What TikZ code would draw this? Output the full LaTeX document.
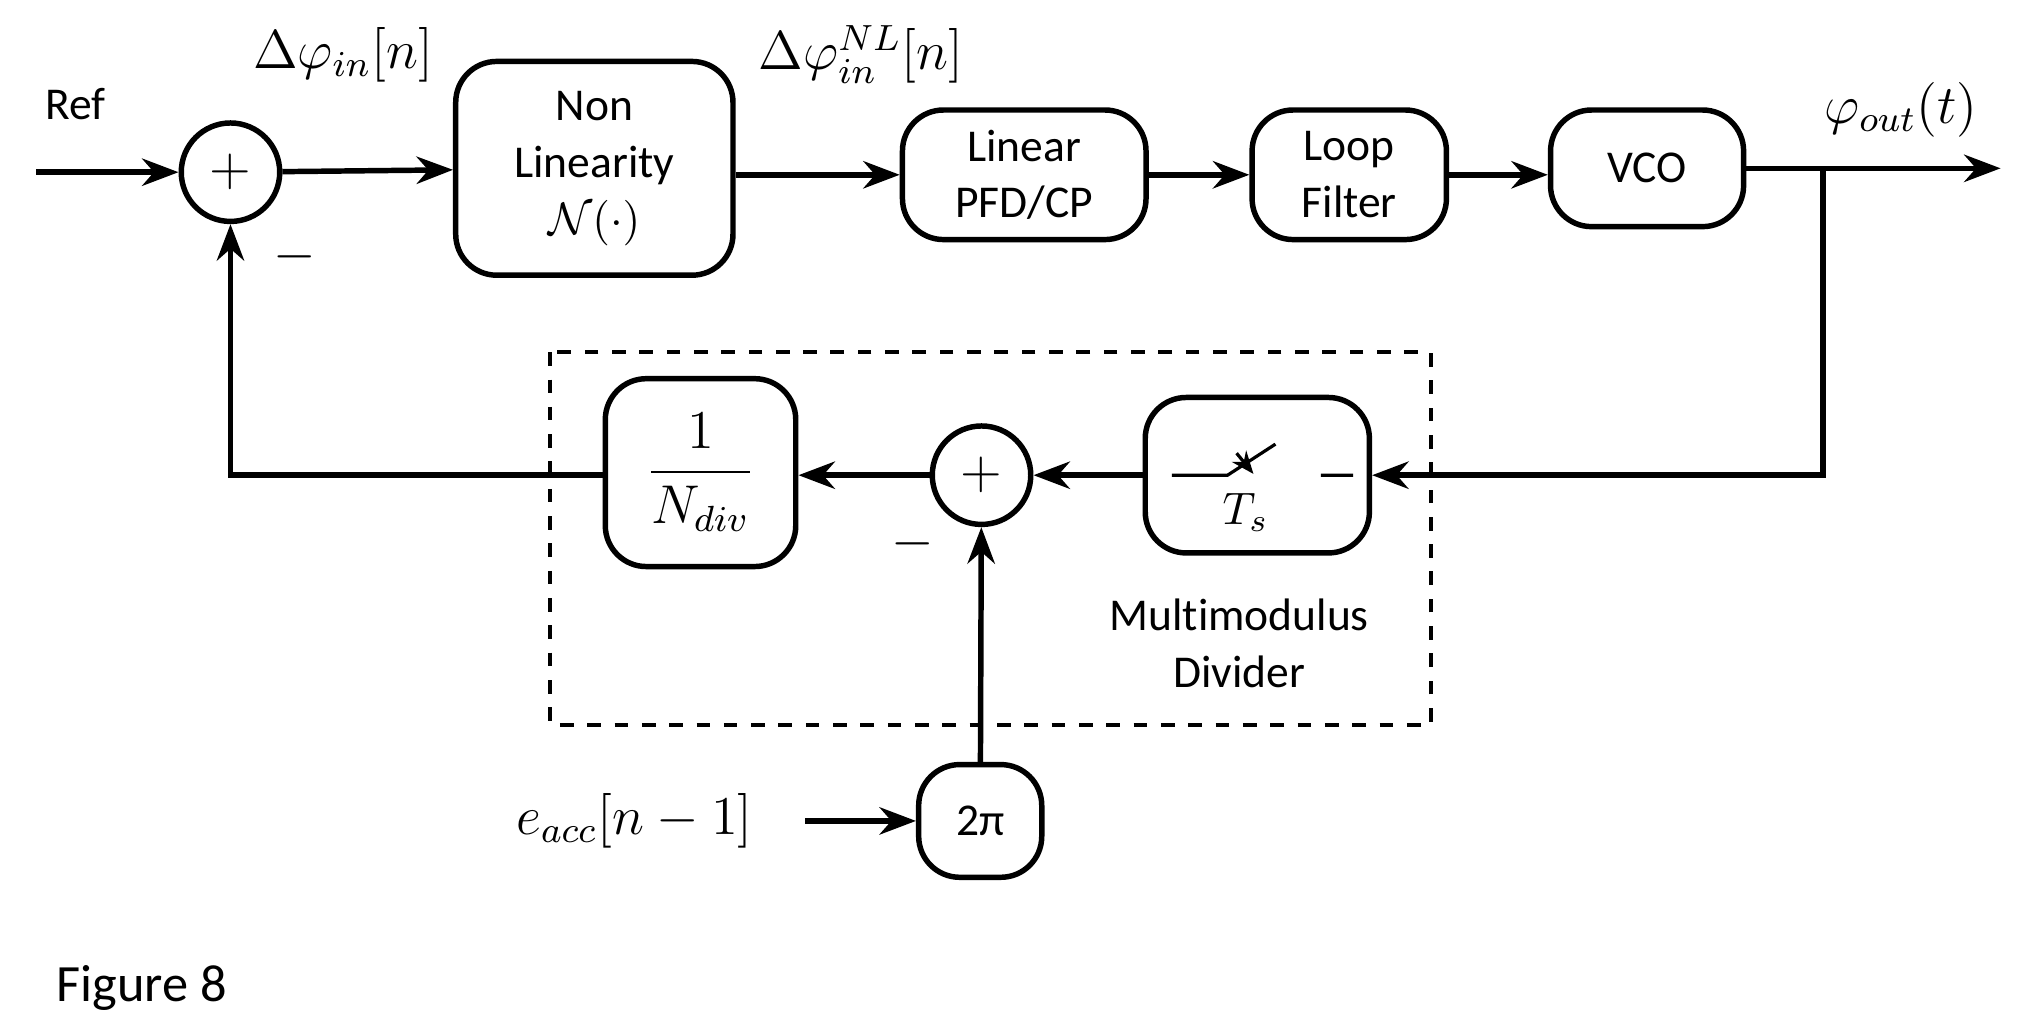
\documentclass[tikz,border=0pt]{standalone}
\usepackage{fontspec}
\setmainfont{Carlito}[Ligatures=NoCommon]
\usetikzlibrary{positioning}
\usetikzlibrary{arrows.meta}

\begin{document}
\begin{tikzpicture}[x=0.01cm, y=-0.01cm, >={Stealth[length=8pt,width=6pt]}, line width=1.2pt,
    font=\fontsize{10}{12.5}\selectfont,
    block/.style={draw, rounded corners=9pt, align=center, inner sep=0pt},
    summer/.style={draw, circle, inner sep=0pt, minimum size=0.76cm}]
\useasboundingbox (0,0) rectangle (1560,795);
% forward path
\node[summer] (s1) at (178,133) {\large$+$};
\node[block, minimum width=2.14cm, minimum height=1.65cm] (nl) at (459,130) {Non\\Linearity\\$\mathcal{N}(\cdot)$};
\node[block, minimum width=1.88cm, minimum height=1.0cm] (pfd) at (791,135) {Linear\\PFD/CP};
\node[block, minimum width=1.5cm, minimum height=1.0cm] (lf) at (1042,135) {Loop\\Filter};
\node[block, minimum width=1.49cm, minimum height=0.9cm] (vco) at (1272,130) {VCO};
\coordinate (in) at (28,133);
\coordinate (out) at (1545,130);
\coordinate (tap) at (1408,130);
\node (ref) at (58,80) {Ref};
\node (dphi) at (265,42) {\large$\Delta\varphi_{in}[n]$};
\node (dphinl) at (665,42) {\large$\Delta\varphi_{in}^{NL}[n]$};
\node (phiout) at (1468,85) {\large$\varphi_{out}(t)$};
\node (m1) at (228,198) {\large$-$};
\draw[->] (in) -- (s1);
\draw[->] (s1) -- (nl);
\draw[->] (nl.east |- pfd) -- (pfd);
\draw[->] (pfd) -- (lf);
\draw[->] (lf) -- (vco.west |- lf);
\draw[->] (vco) -- (out);
% feedback divider
\node[block, minimum width=1.73cm, minimum height=1.2cm] (sw) at (971,367) {};
\node[summer] (s2) at (758,367) {\large$+$};
\node[block, minimum width=1.47cm, minimum height=1.45cm] (ndiv) at (541,365) {\large$\displaystyle\frac{1}{N_{div}}$};
\node[block, minimum width=0.95cm, minimum height=0.87cm] (tpi) at (757,634) {2π};
\node (eacc) at (490,634) {\large$e_{acc}[n-1]$};
\node (m2) at (705,420) {\large$-$};
\node[align=center] (mmd) at (957,497) {Multimodulus\\Divider};
\coordinate (ein) at (622,634);
\coordinate (corner) at (178,367);
\draw[->] (tap) |- (sw);
\draw[->] (sw) -- (s2);
\draw[->] (s2) -- (ndiv.east |- s2);
\draw[->] (ndiv.west |- corner) -- (corner) -- (s1);
\draw[->] (tpi) -- (s2);
\draw[->] (ein) -- (tpi);
% switch symbol
\draw[line width=0.7pt] (905,367) -- (948,367) -- (985,343) (1020,367) -- (1045,367);
\draw[line width=0.7pt, -{Stealth[length=5pt,width=4pt]}] (955,350) -- (968,366);
\node (ts) at (962,396) {$T_s$};
\draw[dashed, line width=0.9pt] (425,272) rectangle (1105,560);
\node[anchor=west] (fig) at (30,763) {\fontsize{11.5}{14}\selectfont Figure 8};
\end{tikzpicture}
\end{document}
